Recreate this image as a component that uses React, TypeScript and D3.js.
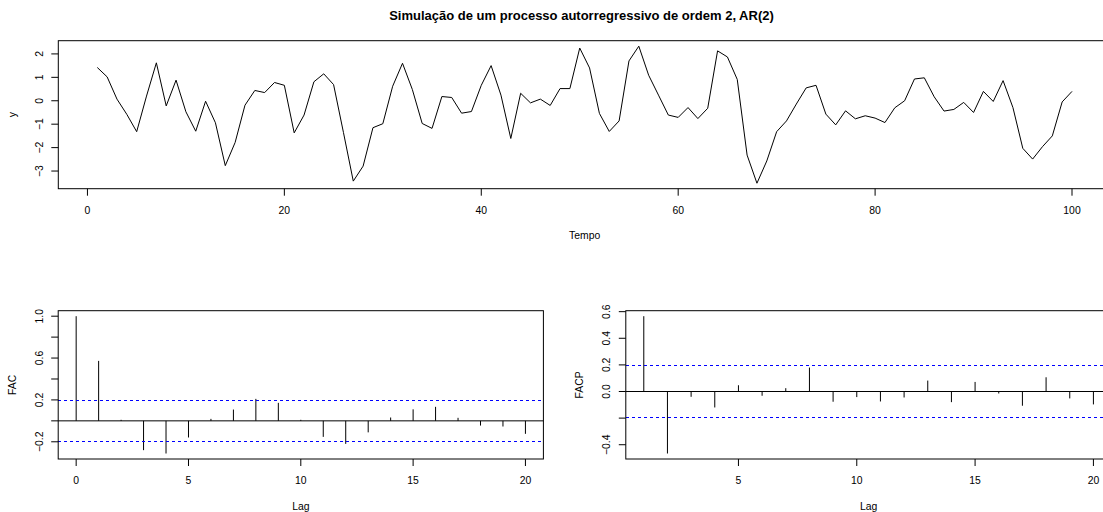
import React from "react";
import * as d3 from "d3";

// ---- Data ----
const titleText = "Simulação de um processo autorregressivo de ordem 2, AR(2)";

const seriesY: number[] = [
  1.42, 1.02, 0.07, -0.58, -1.32, 0.2, 1.62, -0.22, 0.88, -0.47,
  -1.3, -0.02, -0.94, -2.77, -1.78, -0.19, 0.44, 0.35, 0.78, 0.66,
  -1.37, -0.61, 0.81, 1.15, 0.69, -1.35, -3.43, -2.79, -1.15, -0.98,
  0.62, 1.6, 0.48, -0.97, -1.18, 0.18, 0.14, -0.53, -0.46, 0.66,
  1.5, 0.24, -1.61, 0.32, -0.09, 0.07, -0.2, 0.52, 0.52, 2.25,
  1.4, -0.54, -1.31, -0.86, 1.7, 2.33, 1.09, 0.24, -0.61, -0.71,
  -0.29, -0.76, -0.32, 2.13, 1.87, 0.91, -2.32, -3.52, -2.57, -1.32,
  -0.86, -0.14, 0.55, 0.66, -0.57, -1.03, -0.43, -0.77, -0.64, -0.74,
  -0.93, -0.3, 0.0, 0.93, 0.98, 0.17, -0.44, -0.37, -0.07, -0.5,
  0.4, -0.03, 0.86, -0.29, -2.03, -2.49, -1.96, -1.5, -0.05, 0.4,
];

const acfLags = [0, 1, 2, 3, 4, 5, 6, 7, 8, 9, 10, 11, 12, 13, 14, 15, 16, 17, 18, 19, 20];
const acfValues = [
  1.0, 0.573, 0.01, -0.28, -0.312, -0.159, 0.019, 0.108, 0.21, 0.172,
  0.01, -0.153, -0.22, -0.11, 0.032, 0.11, 0.134, 0.029, -0.045, -0.054, -0.124,
];

const pacfLags = [1, 2, 3, 4, 5, 6, 7, 8, 9, 10, 11, 12, 13, 14, 15, 16, 17, 18, 19, 20];
const pacfValues = [
  0.566, -0.466, -0.04, -0.12, 0.047, -0.032, 0.025, 0.18, -0.077, -0.042,
  -0.075, -0.045, 0.082, -0.08, 0.072, -0.015, -0.107, 0.107, -0.052, -0.097,
];

const confLimit = 0.196;

const topXTicks = [0, 20, 40, 60, 80, 100];
const topYTicks = [-3, -2, -1, 0, 1, 2];
const acfXTicks = [0, 5, 10, 15, 20];
const acfYTicks = [-0.2, 0, 0.2, 0.4, 0.6, 0.8, 1.0];
const acfYLabels = [-0.2, 0.2, 0.6, 1.0];
const pacfXTicks = [5, 10, 15, 20];
const pacfYTicks = [-0.4, -0.2, 0, 0.2, 0.4, 0.6];
const pacfYLabels = [-0.4, 0, 0.2, 0.4, 0.6];

// ---- Layout ----
const W = 1103;
const H = 512;
const FONT = "'Liberation Sans', Arial, Helvetica, sans-serif";
const FS = 10.4;
const TICK = 7;

function ext(lo: number, hi: number): [number, number] {
  const d = (hi - lo) * 0.04;
  return [lo - d, hi + d];
}

const fmtMinus = (s: string) => s.replace("-", "\u2212");
const crisp = (v: number) => Math.round(v - 0.5) + 0.5;

type Panel = {
  left: number;
  right: number;
  top: number;
  bottom: number;
};

function Box({ p }: { p: Panel }) {
  return (
    <rect
      x={p.left}
      y={p.top}
      width={p.right - p.left}
      height={p.bottom - p.top}
      fill="none"
      stroke="#000"
      strokeWidth={1}
    />
  );
}

function XAxis({
  p, x, ticks, fmt, label,
}: { p: Panel; x: d3.ScaleLinear<number, number>; ticks: number[]; fmt: (v: number) => string; label: string }) {
  return (
    <g>
      {ticks.map((t) => (
        <g key={t}>
          <line x1={x(t)} x2={x(t)} y1={p.bottom} y2={p.bottom + TICK} stroke="#000" />
          <text x={x(t)} y={p.bottom + 24.8} textAnchor="middle" fontSize={FS} fontFamily={FONT}>
            {fmt(t)}
          </text>
        </g>
      ))}
      <text x={(p.left + p.right) / 2} y={p.bottom + 50.5} textAnchor="middle" fontSize={FS} fontFamily={FONT}>
        {label}
      </text>
    </g>
  );
}

function YAxis({
  p, y, ticks, labels, fmt, label,
}: { p: Panel; y: d3.ScaleLinear<number, number>; ticks: number[]; labels: number[]; fmt: (v: number) => string; label: string }) {
  const lx = p.left - 15.6;
  const ax = p.left - 42.4;
  const cy = (p.top + p.bottom) / 2;
  return (
    <g>
      {ticks.map((t) => (
        <line key={t} x1={p.left - TICK} x2={p.left} y1={y(t)} y2={y(t)} stroke="#000" />
      ))}
      {labels.map((t) => (
        <text
          key={t}
          transform={`translate(${lx},${y(t)}) rotate(-90)`}
          textAnchor="middle"
          fontSize={FS}
          fontFamily={FONT}
        >
          {fmt(t)}
        </text>
      ))}
      <text transform={`translate(${ax},${cy}) rotate(-90)`} textAnchor="middle" fontSize={FS} fontFamily={FONT}>
        {label}
      </text>
    </g>
  );
}

export default function App() {
  // Top panel
  const pTop: Panel = { left: 58.3, right: 1111, top: 40.7, bottom: 188.7 };
  const xTop = d3.scaleLinear().domain(ext(1, seriesY.length)).range([pTop.left, pTop.right]);
  const [yMin, yMax] = d3.extent(seriesY) as [number, number];
  const yTop = d3.scaleLinear().domain(ext(yMin, yMax)).range([pTop.bottom, pTop.top]);
  const linePath = d3
    .line<number>()
    .x((_, i) => xTop(i + 1))
    .y((d) => yTop(d))(seriesY) as string;

  // ACF panel
  const pAcf: Panel = { left: 58.2, right: 543.4, top: 310.7, bottom: 459 };
  const xAcf = d3.scaleLinear().domain(ext(acfLags[0], acfLags[acfLags.length - 1])).range([pAcf.left, pAcf.right]);
  const acfLo = Math.min(d3.min(acfValues) as number, -confLimit);
  const acfHi = Math.max(d3.max(acfValues) as number, confLimit);
  const yAcf = d3.scaleLinear().domain(ext(acfLo, acfHi)).range([pAcf.bottom, pAcf.top]);

  // PACF panel
  const pPacf: Panel = { left: 625.8, right: 1111.4, top: 310.7, bottom: 459 };
  const xPacf = d3.scaleLinear().domain(ext(pacfLags[0], pacfLags[pacfLags.length - 1])).range([pPacf.left, pPacf.right]);
  const pacfLo = Math.min(d3.min(pacfValues) as number, -confLimit);
  const pacfHi = Math.max(d3.max(pacfValues) as number, confLimit);
  const yPacf = d3.scaleLinear().domain(ext(pacfLo, pacfHi)).range([pPacf.bottom, pPacf.top]);

  const intFmt = (v: number) => fmtMinus(d3.format("d")(v));
  const decFmt = (v: number) => fmtMinus(d3.format(".1f")(v));

  const corrPanel = (
    p: Panel,
    x: d3.ScaleLinear<number, number>,
    y: d3.ScaleLinear<number, number>,
    lags: number[],
    vals: number[],
  ) => (
    <g>
      <line x1={p.left} x2={p.right} y1={y(0)} y2={y(0)} stroke="#000" />
      {lags.map((l, i) => (
        <line key={l} x1={x(l)} x2={x(l)} y1={y(0)} y2={y(vals[i])} stroke="#000" />
      ))}
      {[confLimit, -confLimit].map((c) => (
        <line
          key={c}
          x1={Math.round(p.left)}
          x2={Math.min(Math.round(p.right), W)}
          y1={crisp(y(c))}
          y2={crisp(y(c))}
          stroke="#0000FF"
          strokeWidth={1}
          strokeDasharray="3 3"
          shapeRendering="crispEdges"
        />
      ))}
      <Box p={p} />
    </g>
  );

  return (
    <svg width={W} height={H} style={{ position: "absolute", left: 0, top: 0, background: "#fff" }}>
      <rect x={0} y={0} width={W} height={H} fill="#fff" />
      <text x={581.5} y={20} textAnchor="middle" fontSize={13} fontWeight="bold" fontFamily={FONT}>
        {titleText}
      </text>

      {/* Top series */}
      <path d={linePath} fill="none" stroke="#000" strokeWidth={1} />
      <Box p={pTop} />
      <XAxis p={pTop} x={xTop} ticks={topXTicks} fmt={intFmt} label="Tempo" />
      <YAxis p={pTop} y={yTop} ticks={topYTicks} labels={topYTicks} fmt={intFmt} label="y" />

      {/* ACF */}
      {corrPanel(pAcf, xAcf, yAcf, acfLags, acfValues)}
      <XAxis p={pAcf} x={xAcf} ticks={acfXTicks} fmt={intFmt} label="Lag" />
      <YAxis p={pAcf} y={yAcf} ticks={acfYTicks} labels={acfYLabels} fmt={decFmt} label="FAC" />

      {/* PACF */}
      {corrPanel(pPacf, xPacf, yPacf, pacfLags, pacfValues)}
      <XAxis p={pPacf} x={xPacf} ticks={pacfXTicks} fmt={intFmt} label="Lag" />
      <YAxis p={pPacf} y={yPacf} ticks={pacfYTicks} labels={pacfYLabels} fmt={decFmt} label="FACP" />
    </svg>
  );
}
